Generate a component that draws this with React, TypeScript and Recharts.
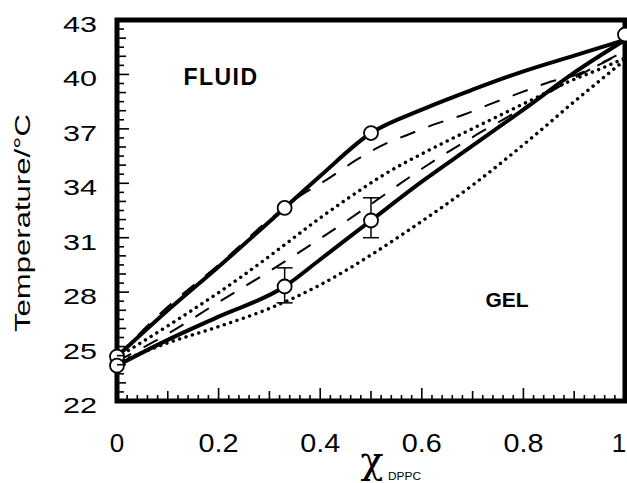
import { ComposedChart, Line, Scatter, ErrorBar, XAxis, YAxis, ReferenceArea, Label, Customized } from 'recharts';

// composition (x) vs temperature readings, taken off the figure
const solidUpper = [
  { x: 0, t: 24.45 }, { x: 0.1, t: 27.0 }, { x: 0.2, t: 29.4 }, { x: 0.33, t: 32.64 },
  { x: 0.4, t: 34.4 }, { x: 0.5, t: 36.77 }, { x: 0.6, t: 38.06 }, { x: 0.7, t: 39.16 },
  { x: 0.8, t: 40.17 }, { x: 0.9, t: 41.04 }, { x: 1, t: 41.9 },
];
const solidLower = [
  { x: 0, t: 23.95 }, { x: 0.1, t: 25.37 }, { x: 0.2, t: 26.65 }, { x: 0.33, t: 28.31 },
  { x: 0.4, t: 29.8 }, { x: 0.5, t: 31.95 }, { x: 0.6, t: 34.09 }, { x: 0.7, t: 36.07 },
  { x: 0.8, t: 38.06 }, { x: 0.9, t: 40.1 }, { x: 1, t: 41.9 },
];
const dashedUpper = [
  { x: 0, t: 24.45 }, { x: 0.1, t: 27.2 }, { x: 0.2, t: 29.5 }, { x: 0.3, t: 32.0 },
  { x: 0.36, t: 33.3 }, { x: 0.413, t: 34.2 }, { x: 0.472, t: 35.3 }, { x: 0.518, t: 36.04 },
  { x: 0.57, t: 36.65 }, { x: 0.623, t: 37.23 }, { x: 0.682, t: 37.78 }, { x: 0.741, t: 38.43 },
  { x: 0.793, t: 38.98 }, { x: 0.846, t: 39.53 }, { x: 0.905, t: 39.99 }, { x: 1, t: 41.3 },
];
const dashedLower = [
  { x: 0, t: 24.2 }, { x: 0.1, t: 25.7 }, { x: 0.2, t: 27.45 }, { x: 0.3, t: 29.15 },
  { x: 0.4, t: 30.95 }, { x: 0.5, t: 32.85 }, { x: 0.6, t: 34.8 }, { x: 0.7, t: 36.55 },
  { x: 0.8, t: 38.15 }, { x: 0.9, t: 39.8 }, { x: 1, t: 41.3 },
];
const dottedUpper = [
  { x: 0, t: 24.4 }, { x: 0.12, t: 26.5 }, { x: 0.25, t: 28.95 }, { x: 0.32, t: 30.4 },
  { x: 0.393, t: 31.95 }, { x: 0.459, t: 33.25 }, { x: 0.524, t: 34.45 }, { x: 0.623, t: 35.95 },
  { x: 0.688, t: 36.85 }, { x: 0.754, t: 37.75 }, { x: 0.82, t: 38.65 }, { x: 0.885, t: 39.55 },
  { x: 0.951, t: 40.3 }, { x: 1, t: 40.9 },
];
const dottedLower = [
  { x: 0, t: 24.1 }, { x: 0.1, t: 25.2 }, { x: 0.2, t: 26.1 }, { x: 0.3, t: 27.1 },
  { x: 0.4, t: 28.4 }, { x: 0.5, t: 30.05 }, { x: 0.57, t: 31.34 }, { x: 0.7, t: 33.9 },
  { x: 0.82, t: 36.59 }, { x: 0.9, t: 38.5 }, { x: 0.95, t: 39.65 }, { x: 1, t: 40.8 },
];

// measured points (open circles); err = [down, up]
const measured = [
  { x: 0, t: 24.45 }, { x: 0, t: 23.95 }, { x: 0.33, t: 32.64 }, { x: 0.5, t: 36.77 },
  { x: 0.33, t: 28.31 }, { x: 0.5, t: 31.95 }, { x: 1, t: 42.2 },
];
const withErrors = [
  { x: 0.33, t: 28.31, err: [0.9, 1.03] },
  { x: 0.5, t: 31.95, err: [0.95, 1.25] },
];

const xLabels = [0, 0.2, 0.4, 0.6, 0.8, 1];
const yLabels = [22, 25, 28, 31, 34, 37, 40, 43];
const xTicks = Array.from({ length: 51 }, (_, i) => i / 50);
const yTicks = Array.from({ length: 43 }, (_, i) => 22 + i / 2);

const FONT = '"Liberation Sans", Arial, Helvetica, sans-serif';
const near = (a: number, b: number) => Math.abs(a - b) < 1e-6;
const isMult = (v: number, step: number) => near(v / step, Math.round(v / step));

const XTick = ({ x, y, payload }: any) => {
  const v = payload.value;
  const len = isMult(v, 0.2) ? 13 : isMult(v, 0.1) ? 10 : 6;
  const lbl = xLabels.find(l => near(l, v));
  const txt = lbl === undefined ? null : String(lbl);
  // the last label sits against the page edge
  const tx = lbl === 1 ? x - 6 : x;
  return (
    <g>
      <line x1={x} x2={x} y1={y} y2={y - len} stroke="#000" strokeWidth={1.6} />
      {txt !== null && (
        <text x={tx} y={y + 51} textAnchor="middle" fontFamily={FONT} fontSize={26} fill="#000"
          {...(txt.length > 1 ? { textLength: 40, lengthAdjust: 'spacingAndGlyphs' } : {})}>
          {txt}
        </text>
      )}
    </g>
  );
};

const YTickLeft = ({ x, y, payload }: any) => {
  const v = payload.value;
  const major = yLabels.some(l => near(l, v));
  const len = major ? 12 : isMult(v, 1) ? 9 : 7;
  return (
    <g>
      <line x1={x} x2={x + len} y1={y} y2={y} stroke="#000" strokeWidth={1.6} />
      {major && (
        <text x={97} y={y + 12} textAnchor="end" fontFamily={FONT} fontSize={22} fill="#000"
          textLength={34} lengthAdjust="spacingAndGlyphs">
          {String(v)}
        </text>
      )}
    </g>
  );
};

const YTickRight = ({ x, y, payload }: any) => {
  const v = payload.value;
  const major = yLabels.some(l => near(l, v));
  const len = major ? 12 : isMult(v, 1) ? 9 : 7;
  return <line x1={x} x2={x - len} y1={y} y2={y} stroke="#000" strokeWidth={1.6} />;
};

const OpenCircle = (p: any) => (
  <circle cx={p.cx} cy={p.cy} r={7} fill="#fff" stroke="#000" strokeWidth={1.8} />
);

const Annotations = () => (
  <g fontFamily={FONT} fill="#000">
    <text x={221} y={85} textAnchor="middle" fontSize={23} fontWeight="bold" letterSpacing={1.5}>FLUID</text>
    <text x={507} y={307} textAnchor="middle" fontSize={21} fontWeight="bold">GEL</text>
    <text x={372} y={473} textAnchor="middle" fontSize={38} fontFamily='"DejaVu Serif", "Liberation Serif", serif'>χ</text>
    <text x={388} y={480} fontSize={11} textLength={33} lengthAdjust="spacingAndGlyphs">DPPC</text>
  </g>
);

const YTitle = () => (
  <text x={0} y={0} transform="translate(30, 223) rotate(-90)" textAnchor="middle" fontFamily={FONT}
    fontSize={22} fill="#000" textLength={218} lengthAdjust="spacingAndGlyphs">
    Temperature/°C
  </text>
);

export default function App() {
  return (
    <div style={{ position: 'absolute', left: 0, top: 0, background: '#fff' }}>
      <ComposedChart width={627} height={483} margin={{ top: 20, right: 1, bottom: 0, left: 0 }}>
        <XAxis type="number" dataKey="x" domain={[0, 1]} ticks={xTicks} interval={0}
          axisLine={false} tickLine={false} tickSize={0} tickMargin={0} height={82} tick={<XTick />} />
        <YAxis yAxisId="left" type="number" dataKey="t" domain={[22, 43]} ticks={yTicks} interval={0}
          axisLine={false} tickLine={false} tickSize={0} tickMargin={0} width={117} tick={<YTickLeft />}>
          <Label content={<YTitle />} />
        </YAxis>
        <YAxis yAxisId="right" orientation="right" type="number" domain={[22, 43]} ticks={yTicks} interval={0}
          axisLine={false} tickLine={false} tickSize={0} tickMargin={0} width={1} tick={<YTickRight />} />

        <Line yAxisId="left" data={dottedLower} dataKey="t" type="monotone" stroke="#000" strokeWidth={3.4}
          strokeDasharray="0.1 6.6" strokeLinecap="round" dot={false} isAnimationActive={false} />
        <Line yAxisId="left" data={dottedUpper} dataKey="t" type="monotone" stroke="#000" strokeWidth={3.4}
          strokeDasharray="0.1 6.6" strokeLinecap="round" dot={false} isAnimationActive={false} />
        <Line yAxisId="left" data={dashedLower} dataKey="t" type="monotone" stroke="#000" strokeWidth={2}
          strokeDasharray="16 14" dot={false} isAnimationActive={false} />
        <Line yAxisId="left" data={dashedUpper} dataKey="t" type="monotone" stroke="#000" strokeWidth={2}
          strokeDasharray="16 14" dot={false} isAnimationActive={false} />
        <Line yAxisId="left" data={solidLower} dataKey="t" type="monotone" stroke="#000" strokeWidth={4}
          dot={false} isAnimationActive={false} />
        <Line yAxisId="left" data={solidUpper} dataKey="t" type="monotone" stroke="#000" strokeWidth={4}
          dot={false} isAnimationActive={false} />

        <Scatter yAxisId="left" data={withErrors} dataKey="t" shape={() => null} isAnimationActive={false}>
          <ErrorBar dataKey="err" direction="y" width={8} stroke="#000" strokeWidth={1.5} />
        </Scatter>
        <Scatter yAxisId="left" data={measured} dataKey="t" shape={<OpenCircle />} isAnimationActive={false} />

        <ReferenceArea yAxisId="left" x1={0} x2={1} y1={22} y2={43} fill="none" stroke="#000" strokeWidth={5} />
        <Customized component={Annotations} />
      </ComposedChart>
    </div>
  );
}
